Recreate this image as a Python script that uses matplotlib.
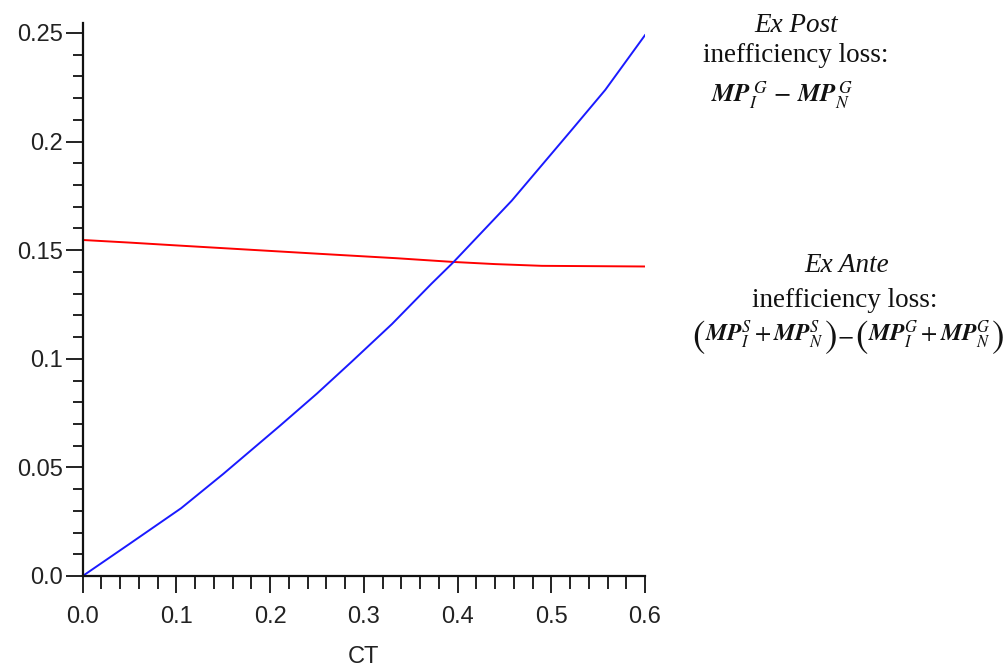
import matplotlib
matplotlib.use("Agg")
import matplotlib.pyplot as plt
from matplotlib.ticker import MultipleLocator

plt.rcParams['mathtext.fontset'] = 'stix'

# Data
blue_x = [0.0, 0.05, 0.105, 0.15, 0.21, 0.25, 0.2866, 0.33, 0.372, 0.3954, 0.4578, 0.522, 0.5576, 0.6]
blue_y = [0.0, 0.0148, 0.0312, 0.047, 0.069, 0.084, 0.0985, 0.116, 0.1345, 0.1444, 0.1728, 0.2055, 0.2238, 0.249]
red_x = [0.0, 0.05, 0.1, 0.171, 0.25, 0.335, 0.395, 0.44, 0.49, 0.6]
red_y = [0.1547, 0.1535, 0.1522, 0.1504, 0.1484, 0.1463, 0.1446, 0.1436, 0.1428, 0.1425]

x_major = [0.0, 0.1, 0.2, 0.3, 0.4, 0.5, 0.6]
x_labels = ['0.0', '0.1', '0.2', '0.3', '0.4', '0.5', '0.6']
y_major = [0.0, 0.05, 0.1, 0.15, 0.2, 0.25]
y_labels = ['0.0', '0.05', '0.1', '0.15', '0.2', '0.25']
x_label = 'CT'

W, H = 1007, 668
fig = plt.figure(figsize=(W / 100, H / 100), dpi=100)
fig.patch.set_facecolor('white')

left_px, right_px, bottom_px, top_px = 82.7, 645, 576, 23
ax = fig.add_axes([left_px / W, 1 - bottom_px / H,
                   (right_px - left_px) / W, (bottom_px - top_px) / H])

ax.plot(red_x, red_y, color='#ff0000', lw=1.4, solid_joinstyle='round')
ax.plot(blue_x, blue_y, color='#1a1aff', lw=1.4, solid_joinstyle='round')

ax.set_xlim(0, 0.6)
ax.set_ylim(0, 0.2546)
for s in ('top', 'right'):
    ax.spines[s].set_visible(False)
for s in ('left', 'bottom'):
    ax.spines[s].set_linewidth(1.6)
    ax.spines[s].set_color('#111111')

ax.set_xticks(x_major)
ax.set_xticklabels(x_labels)
ax.set_yticks(y_major)
ax.set_yticklabels(y_labels)
ax.xaxis.set_minor_locator(MultipleLocator(0.02))
ax.yaxis.set_minor_locator(MultipleLocator(0.01))

for lab in ax.get_xticklabels() + ax.get_yticklabels():
    lab.set_fontfamily('Liberation Sans')
    lab.set_fontsize(17)
    lab.set_color('#222222')

ax.tick_params(axis='x', which='major', direction='out', length=12.5, width=1.3, pad=9, color='#111111')
ax.tick_params(axis='x', which='minor', direction='out', length=9.5, width=1.3, color='#111111')
ax.tick_params(axis='y', which='major', direction='out', length=12, width=1.3, pad=2, color='#111111')
ax.tick_params(axis='y', which='minor', direction='out', length=7, width=1.3, color='#111111')

ax.set_xlabel(x_label, fontfamily='Liberation Sans', fontsize=17, color='#222222', labelpad=13)

serif = 'Liberation Serif'
ink = '#111111'


def fx(px):
    return px / W


def fy(py):
    return 1 - py / H


# Ex Post block
fig.text(fx(796), fy(32), 'Ex Post', family=serif, style='italic', fontsize=19.5,
         ha='center', va='baseline', color=ink)
fig.text(fx(796), fy(62), 'inefficiency loss:', family=serif, fontsize=19.5,
         ha='center', va='baseline', color=ink)
fig.text(fx(711), fy(103), r'$\mathbfit{MP}_{I}^{\;G}\,-\,\mathbfit{MP}_{N}^{\;G}$',
         fontsize=18, ha='left', va='baseline', color=ink)

# Ex Ante block
fig.text(fx(847), fy(272), 'Ex Ante', family=serif, style='italic', fontsize=19.5,
         ha='center', va='baseline', color=ink)
fig.text(fx(845), fy(307), 'inefficiency loss:', family=serif, fontsize=19.5,
         ha='center', va='baseline', color=ink)

# Ex Ante formula built piece by piece so the parentheses can be tall
renderer = fig.canvas.get_renderer()
pieces = [
    (r'$($', 27, 'paren', 0),
    (r'$\mathbfit{MP}_{I}^{S}+\mathbfit{MP}_{N}^{S}$', 17, 'body', 0),
    (r'$)$', 27, 'paren', 1),
    (r'$-$', 17, 'body', 1),
    (r'$($', 27, 'paren', 0),
    (r'$\mathbfit{MP}_{I}^{G}+\mathbfit{MP}_{N}^{G}$', 17, 'body', 0),
    (r'$)$', 27, 'paren', 0),
]
items = []
x_cursor = 0.0
for txt, size, kind, gap in pieces:
    if kind == 'paren':
        t = fig.text(fx(x_cursor), fy(337), txt, fontsize=size, ha='left', va='center', color=ink)
    else:
        t = fig.text(fx(x_cursor), fy(342), txt, fontsize=size, ha='left', va='baseline', color=ink)
    bb = t.get_window_extent(renderer)
    items.append((t, x_cursor))
    x_cursor = bb.x1 + gap
total = x_cursor
start = 847.5 - total / 2
for t, x0 in items:
    t.set_x(fx(start + x0))

fig.savefig('out.png', dpi=100, facecolor='white')
